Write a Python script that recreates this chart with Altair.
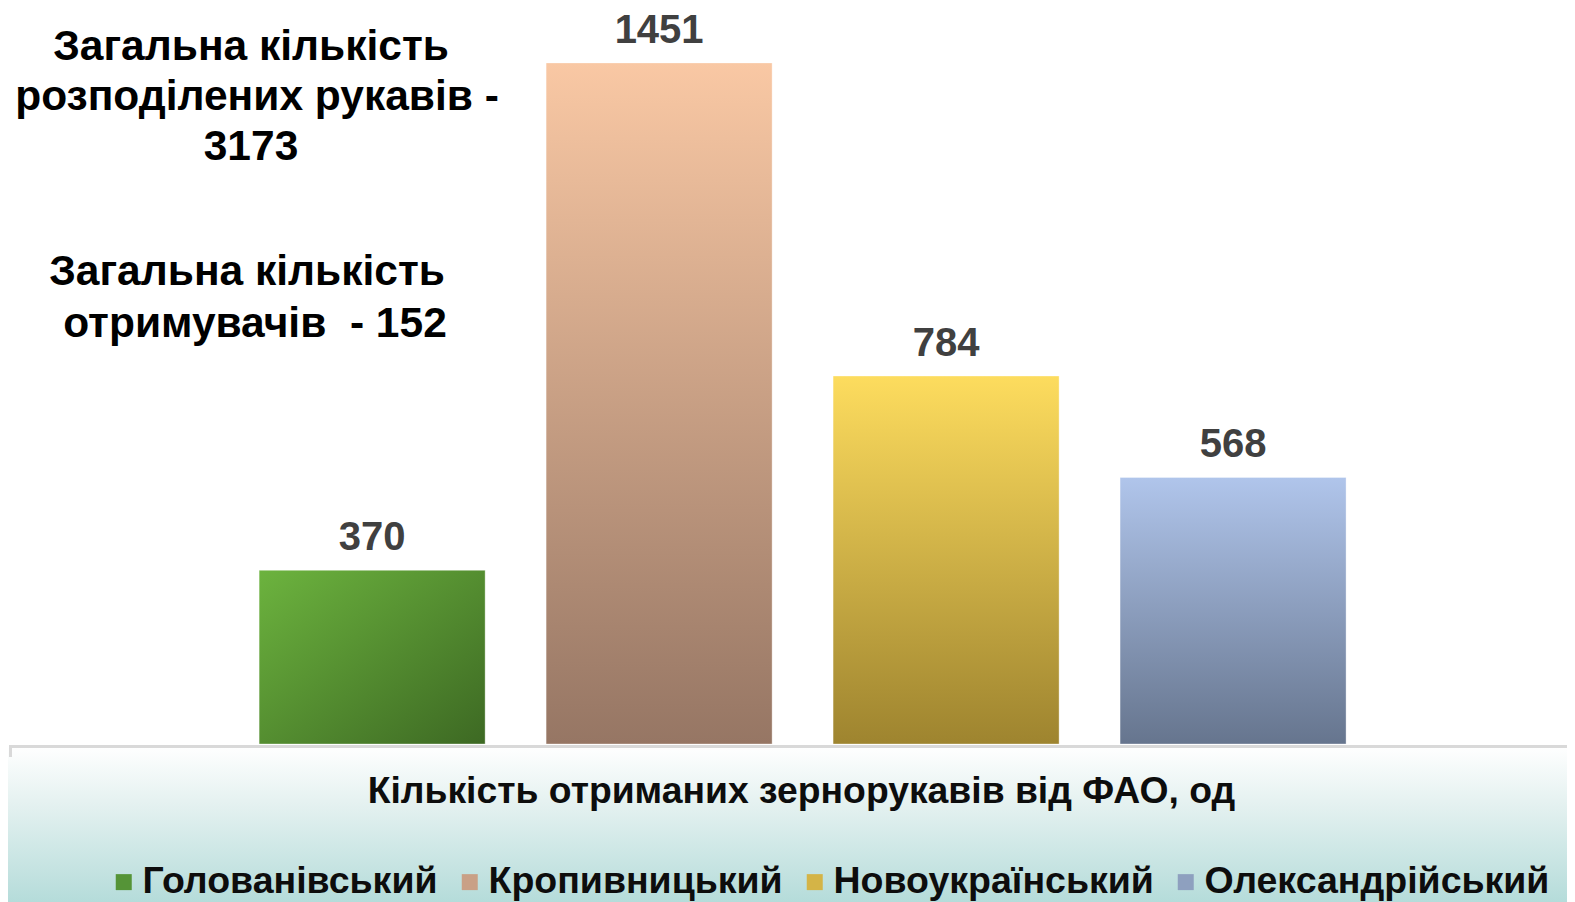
import altair as alt
import pandas as pd

# ---- data ----
series = ["Голованівський", "Кропивницький", "Новоукраїнський", "Олександрійський"]
values = [370, 1451, 784, 568]
x_title = "Кількість отриманих зернорукавів від ФАО, од"
note_distributed = ["Загальна кількість", "розподілених рукавів -", "3173"]
note_recipients = ["Загальна кількість", "отримувачів\u00a0\u00a0- 152"]

# ---- styles ----
FONT = "Liberation Sans"
top_colors = ["#6cb33e", "#f9c8a4", "#fddc5e", "#b0c5eb"]
bottom_colors = ["#3d6923", "#967664", "#9e842f", "#66758e"]
legend_colors = ["#559437", "#c9a086", "#d4b447", "#8ea0bf"]
directions = [(0, 0, 1, 1), (0, 0, 0, 1), (0, 0, 0, 1), (0, 0, 0, 1)]
note1_pos = [(241, 52), (247, 102), (241, 152)]
note2_pos = [(237, 277), (245, 329)]

W, H = 1557, 736
YMAX = 1568
PAD_BOTTOM = 158

df = pd.DataFrame({"series": series, "value": values})

x_enc = alt.X(
    "series:N",
    sort=series,
    scale=alt.Scale(domain=series, paddingInner=0.2125, paddingOuter=0.819, align=0.53),
    axis=alt.Axis(
        labels=False, ticks=False, domain=True, domainColor="#d9d9d9", domainWidth=3,
        offset=2, title=x_title, titleFont=FONT, titleFontSize=37.3, titleFontWeight="bold",
        titleColor="#0d0d0d", titleX=791, titleY=56, titleAlign="center",
        titleBaseline="alphabetic", titleAngle=0, zindex=1,
    ),
)
y_enc = alt.Y("value:Q", scale=alt.Scale(domain=[0, YMAX]), axis=None)

# background gradient band under the axis
bg = alt.Chart(pd.DataFrame({"k": [0]})).mark_rect(
    fill=alt.LinearGradient(
        gradient="linear", x1=0, y1=0, x2=0, y2=1,
        stops=[alt.GradientStop(color="#ffffff", offset=0),
               alt.GradientStop(color="#e6f2f1", offset=0.35),
               alt.GradientStop(color="#b5dcda", offset=1)],
    )
).encode(x=alt.value(-2), x2=alt.value(W), y=alt.value(H + 2), y2=alt.value(H + PAD_BOTTOM))

bars = []
for s, t, b, (x1, y1, x2, y2) in zip(series, top_colors, bottom_colors, directions):
    grad = alt.LinearGradient(
        gradient="linear", x1=x1, y1=y1, x2=x2, y2=y2,
        stops=[alt.GradientStop(color=t, offset=0), alt.GradientStop(color=b, offset=1)],
    )
    bars.append(
        alt.Chart(df).transform_filter(alt.datum.series == s)
        .mark_bar(fill=grad, stroke="#ffffff", strokeOpacity=0.35, strokeWidth=1)
        .encode(x=x_enc, y=y_enc)
    )

legend_layer = alt.Chart(df).mark_point(shape="square", filled=True, opacity=0).encode(
    x=x_enc,
    y=y_enc,
    color=alt.Color(
        "series:N",
        sort=series,
        scale=alt.Scale(domain=series, range=legend_colors),
        legend=alt.Legend(
            title=None, orient="none", legendX=95, legendY=855, direction="horizontal",
            columns=4, symbolType="square", symbolSize=256, symbolOpacity=1,
            symbolStrokeWidth=0, labelFont=FONT, labelFontSize=37.5, labelFontWeight="bold",
            labelColor="#0d0d0d", labelOffset=0, columnPadding=13, labelLimit=600,
            padding=0,
        ),
    ),
)

labels = alt.Chart(df).mark_text(
    dy=-20, baseline="alphabetic", align="center", font=FONT, fontSize=40,
    fontWeight="bold", color="#404040",
).encode(x=x_enc, y=y_enc, text=alt.Text("value:Q"))

rule = alt.Chart(pd.DataFrame({"k": [0]})).mark_rule(color="#d9d9d9", strokeWidth=3).encode(
    x=alt.value(0.5), y=alt.value(H + 1), y2=alt.value(H + 13)
)

notes = []
for lines, positions in ((note_distributed, note1_pos), (note_recipients, note2_pos)):
    for line, (px, py) in zip(lines, positions):
        notes.append(
            alt.Chart(pd.DataFrame({"k": [0]})).mark_text(
                align="center", baseline="alphabetic", font=FONT, fontSize=42.5,
                fontWeight="bold", color="#000000",
            ).encode(x=alt.value(px), y=alt.value(py), text=alt.value(line))
        )

chart = alt.layer(bg, *bars, legend_layer, labels, rule, *notes).properties(
    width=W, height=H,
    autosize=alt.AutoSizeParams(type="none"),
    padding={"left": 2, "top": 0, "right": 0, "bottom": PAD_BOTTOM},
    background="#ffffff",
).configure_view(stroke=None)

chart.save("out.html", embed_options={"renderer": "svg", "actions": False})
